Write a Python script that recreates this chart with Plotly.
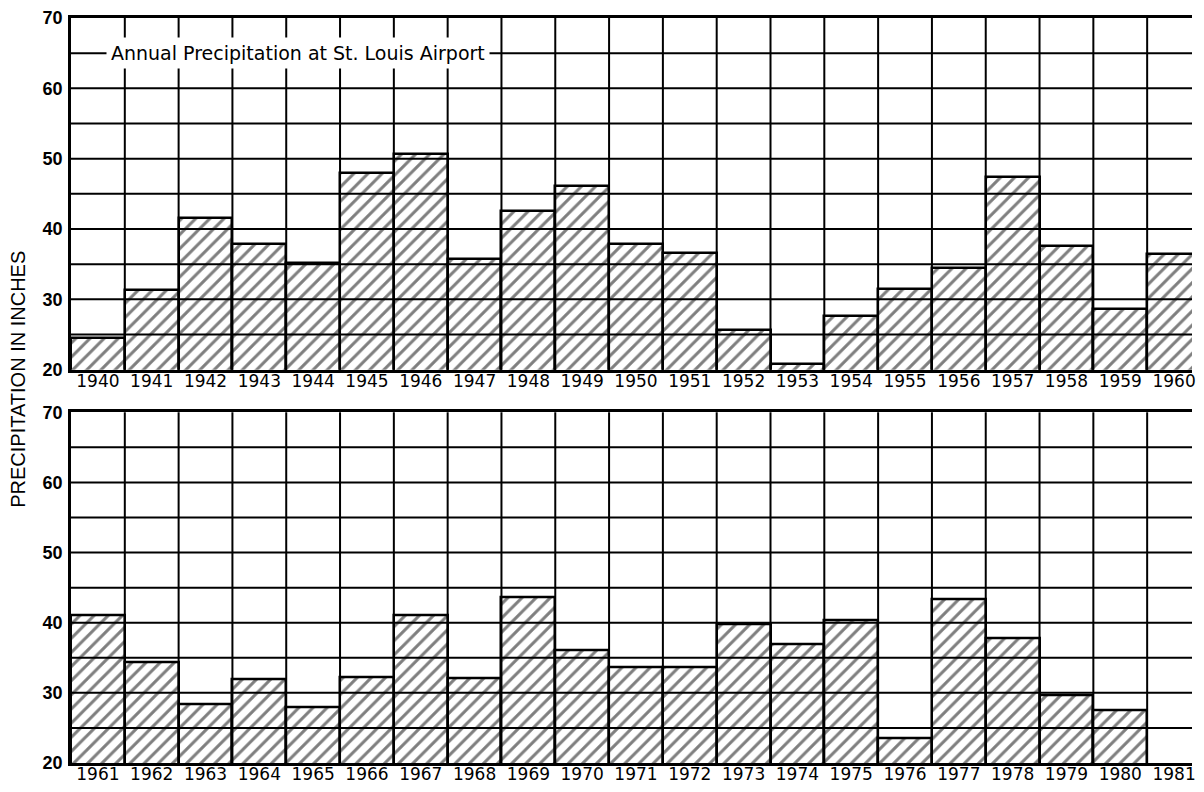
import plotly.graph_objects as go

# ---- data ----
years_top = [str(y) for y in range(1940, 1961)]
precip_top = [24.5, 31.3, 41.6, 37.8, 35.2, 47.9, 50.7, 35.8, 42.5, 46.1, 37.8,
              36.6, 25.7, 20.8, 27.7, 31.5, 34.5, 47.4, 37.6, 28.6, 36.5]
years_bottom = [str(y) for y in range(1961, 1982)]
precip_bottom = [41.0, 34.4, 28.3, 31.9, 28.0, 32.2, 41.1, 32.1, 43.6, 36.0, 33.7,
                 33.6, 39.8, 36.9, 40.4, 23.5, 43.4, 37.8, 29.7, 27.5, None]
y_ticks = [20, 30, 40, 50, 60, 70]
title_text = "Annual Precipitation at St. Louis Airport"
y_title = "PRECIPITATION IN INCHES"

FONT = "Liberation Sans, Arial, sans-serif"
FONT2 = "DejaVu Sans, sans-serif"

# The page body has an 8px margin, so the figure is sized to fit the window.
W, H = 1188, 776
ml, mr, mt, mb = 63, 0, 7, 17
pw = W - ml - mr
ph = H - mt - mb
col_px = 54.0  # width of one year column in pixels

fig = go.Figure()

bar_style = dict(
    marker=dict(
        color="white",
        line=dict(color="black", width=2.5),
        pattern=dict(shape="/", fgcolor="black", bgcolor="white", size=10, solidity=0.3),
    ),
    width=1.0,
    showlegend=False,
    hoverinfo="x+y",
)

fig.add_trace(go.Bar(x=years_top, y=precip_top, xaxis="x", yaxis="y", **bar_style))
fig.add_trace(go.Bar(x=years_bottom, y=precip_bottom, xaxis="x2", yaxis="y2", **bar_style))

top_dom = [(759 - 362) / ph, 1.0]
bot_dom = [0.0, (759 - 405) / ph]

xax = dict(
    type="category", range=[-0.5, -0.5 + pw / col_px], showgrid=False, zeroline=False,
    showline=True, linecolor="black", linewidth=2.5, mirror=True,
    ticks="", ticklabelstandoff=-6,
    tickfont=dict(family=FONT2, size=17, color="black"),
)
yax = dict(
    range=[20, 70], tickvals=y_ticks, showgrid=False, zeroline=False,
    showline=True, linecolor="black", linewidth=2.5, mirror=False,
    ticks="", ticklabelstandoff=2,
    tickfont=dict(family=FONT, size=18, color="black", weight="bold"),
)

fig.update_layout(
    width=W, height=H,
    margin=dict(l=ml, r=mr, t=mt, b=mb),
    paper_bgcolor="white", plot_bgcolor="white",
    bargap=0,
    xaxis=dict(xax, domain=[0, 1], anchor="y"),
    yaxis=dict(yax, domain=top_dom, anchor="x"),
    xaxis2=dict(xax, domain=[0, 1], anchor="y2"),
    yaxis2=dict(yax, domain=bot_dom, anchor="x2"),
)

# grid lines drawn above the hatched bars
shapes = []
for xr, yr in (("x", "y"), ("x2", "y2")):
    for gy in range(25, 70, 5):
        shapes.append(dict(type="line", xref=f"{xr} domain", yref=yr, x0=0, x1=1,
                           y0=gy, y1=gy, line=dict(color="black", width=2), layer="above"))
    for k in range(20):
        shapes.append(dict(type="line", xref=xr, yref=f"{yr} domain", x0=k + 0.5, x1=k + 0.5,
                           y0=0, y1=1, line=dict(color="black", width=2), layer="above"))
fig.update_layout(shapes=shapes)

fig.add_annotation(
    text=title_text, xref="x domain", yref="y", x=(98 - ml) / pw, y=65,
    xanchor="left", yanchor="middle", showarrow=False, bgcolor="white", borderpad=4,
    font=dict(family=FONT2, size=19, color="black"),
)
fig.add_annotation(
    text=y_title, xref="paper", yref="paper", x=-(ml - 9) / pw, y=(759 - 372) / ph,
    xanchor="center", yanchor="middle", textangle=-90, showarrow=False,
    font=dict(family=FONT, size=20, color="black"),
)

fig.write_html("out.html")
